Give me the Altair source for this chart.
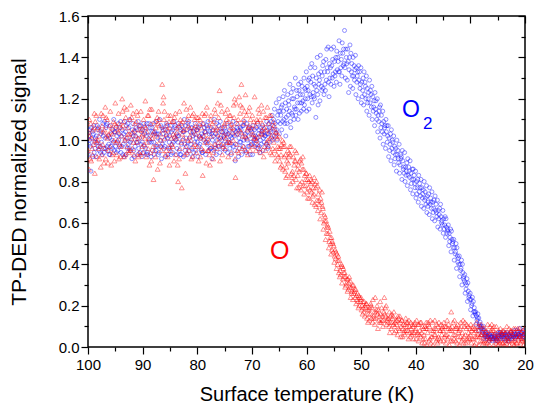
import altair as alt
import pandas as pd

# ---------------- data ----------------
T_START = 100.0   # K, first sample
T_STEP = 0.5      # K, spacing of samples along the temperature ramp

# O signal (red), six overlapping scans
RED_A = [
0.95, 1.08, 0.98, 1.12, 1.02, 0.93, 1.05, 1.10, 0.97, 1.03,
1.18, 1.04, 0.97, 1.09, 1.01, 0.94, 1.11, 1.05, 0.99, 1.07,
1.03, 1.19, 0.96, 1.08, 0.81, 1.02, 1.10, 0.97, 1.14, 1.05,
1.06, 0.97, 1.13, 0.80, 1.08, 1.01, 1.15, 0.95, 1.04, 1.10,
0.97, 1.10, 0.83, 1.04, 0.99, 1.12, 0.94, 1.06, 1.01, 1.14,
1.08, 1.15, 0.99, 1.06, 0.82, 1.10, 1.04, 0.97, 1.12, 1.07,
1.06, 1.21, 0.98, 1.10, 1.03, 0.95, 1.08, 1.12, 0.99, 1.04,
1.02, 0.88, 0.97, 0.83, 0.93, 0.80, 0.90, 0.88, 0.76, 0.86,
0.84, 0.72, 0.80, 0.69, 0.78, 0.62, 0.67, 0.52, 0.58, 0.45,
0.49, 0.38, 0.42, 0.31, 0.36, 0.27, 0.32, 0.23, 0.28, 0.19,
0.24, 0.17, 0.21, 0.13, 0.19, 0.11, 0.16, 0.22, 0.10, 0.15,
0.14, 0.09, 0.17, 0.11, 0.08, 0.13, 0.06, 0.12, 0.05, 0.10,
0.09, 0.03, 0.12, 0.06, 0.01, 0.10, 0.05, 0.13, 0.02, 0.08,
0.08, 0.02, 0.11, 0.17, 0.04, 0.09, 0.01, 0.07, 0.12, 0.03,
0.06, 0.10, 0.02, 0.08, 0.11, 0.03, 0.07, 0.01, 0.09, 0.05,
0.05, 0.09, 0.02, 0.07, 0.03, 0.08, 0.01, 0.06, 0.09, 0.03,
0.04]
RED_B = [
1.04, 0.90, 1.06, 0.99, 0.91, 1.07, 0.96, 1.01, 1.14, 0.94,
0.99, 1.13, 1.06, 0.92, 1.15, 1.03, 0.96, 1.08, 1.12, 0.93,
0.94, 1.06, 1.12, 0.90, 1.04, 0.98, 1.07, 1.27, 1.01, 0.92,
1.12, 1.03, 0.93, 1.07, 0.99, 1.18, 0.94, 1.06, 1.12, 0.98,
1.05, 0.92, 1.08, 1.13, 0.95, 1.02, 1.09, 0.96, 1.24, 0.93,
0.96, 1.03, 1.12, 1.00, 1.18, 0.94, 1.27, 1.08, 1.01, 1.16,
1.12, 1.01, 1.09, 0.94, 1.14, 1.05, 0.97, 1.02, 1.07, 0.93,
0.90, 1.00, 0.85, 0.95, 0.79, 0.92, 0.81, 0.77, 0.89, 0.74,
0.75, 0.83, 0.70, 0.79, 0.66, 0.72, 0.57, 0.61, 0.48, 0.53,
0.41, 0.45, 0.34, 0.39, 0.29, 0.33, 0.24, 0.30, 0.21, 0.25,
0.18, 0.22, 0.14, 0.19, 0.12, 0.24, 0.09, 0.16, 0.13, 0.20,
0.10, 0.16, 0.07, 0.13, 0.15, 0.05, 0.11, 0.08, 0.12, 0.04,
0.04, 0.11, 0.07, 0.02, 0.09, 0.04, 0.12, 0.06, 0.10, 0.03,
0.03, 0.10, 0.05, 0.08, 0.13, 0.02, 0.09, 0.04, 0.06, 0.10,
0.11, 0.04, 0.08, 0.01, 0.06, 0.09, 0.02, 0.10, 0.04, 0.07,
0.01, 0.06, 0.08, 0.02, 0.09, 0.04, 0.07, 0.02, 0.05, 0.08,
0.07]
RED_C = [
0.86, 1.01, 1.13, 0.92, 1.05, 0.98, 1.16, 0.89, 1.04, 1.09,
1.07, 0.91, 1.02, 1.16, 0.97, 1.10, 1.04, 0.90, 1.01, 1.14,
1.10, 0.92, 1.01, 1.15, 0.95, 1.11, 0.89, 1.05, 0.93, 1.12,
0.95, 1.09, 1.01, 0.91, 0.77, 1.05, 1.10, 1.02, 0.92, 1.07,
1.11, 1.01, 0.95, 0.89, 1.07, 0.97, 1.15, 1.03, 0.90, 1.04,
1.13, 0.92, 1.06, 1.17, 1.03, 1.21, 0.96, 1.14, 1.05, 0.95,
0.97, 1.07, 1.15, 1.03, 0.92, 1.11, 1.04, 0.93, 0.95, 1.01,
0.96, 0.86, 0.93, 0.89, 0.97, 0.83, 0.94, 0.85, 0.80, 0.83,
0.81, 0.76, 0.73, 0.77, 0.74, 0.65, 0.60, 0.55, 0.51, 0.47,
0.44, 0.40, 0.37, 0.33, 0.34, 0.28, 0.29, 0.26, 0.25, 0.20,
0.20, 0.15, 0.18, 0.16, 0.23, 0.14, 0.18, 0.12, 0.17, 0.11,
0.17, 0.12, 0.10, 0.06, 0.12, 0.09, 0.14, 0.04, 0.09, 0.07,
0.13, 0.06, 0.02, 0.10, 0.07, 0.13, 0.01, 0.09, 0.05, 0.11,
0.12, 0.06, 0.01, 0.10, 0.06, 0.11, 0.05, 0.13, 0.02, 0.07,
0.02, 0.07, 0.12, 0.05, 0.03, 0.06, 0.11, 0.04, 0.08, 0.02,
0.08, 0.03, 0.05, 0.10, 0.01, 0.06, 0.03, 0.09, 0.02, 0.06,
0.02]
RED_D = [
1.10, 0.96, 0.84, 1.06, 0.97, 1.12, 0.91, 1.03, 0.88, 1.00,
0.93, 1.08, 1.20, 1.00, 1.06, 0.95, 1.13, 1.02, 0.92, 1.05,
0.98, 1.04, 0.88, 1.01, 1.09, 0.86, 1.03, 1.18, 1.07, 0.97,
1.01, 0.90, 1.06, 1.14, 1.03, 0.93, 1.00, 1.16, 0.97, 1.03,
0.90, 1.06, 1.02, 1.16, 0.93, 1.08, 0.98, 1.18, 1.06, 0.97,
1.01, 1.09, 0.94, 1.11, 0.98, 1.05, 1.16, 1.02, 0.93, 1.10,
1.03, 0.95, 1.02, 1.17, 1.06, 0.99, 1.12, 1.06, 0.90, 0.97,
0.87, 0.97, 0.82, 0.92, 0.84, 0.88, 0.77, 0.90, 0.86, 0.78,
0.72, 0.79, 0.77, 0.68, 0.71, 0.70, 0.64, 0.58, 0.56, 0.51,
0.47, 0.42, 0.35, 0.38, 0.30, 0.31, 0.26, 0.27, 0.23, 0.24,
0.16, 0.20, 0.12, 0.21, 0.15, 0.17, 0.13, 0.19, 0.24, 0.13,
0.07, 0.14, 0.12, 0.15, 0.05, 0.11, 0.08, 0.13, 0.06, 0.11,
0.06, 0.08, 0.10, 0.04, 0.12, 0.02, 0.08, 0.03, 0.12, 0.06,
0.05, 0.13, 0.08, 0.03, 0.09, 0.05, 0.12, 0.02, 0.09, 0.05,
0.08, 0.01, 0.05, 0.10, 0.07, 0.02, 0.05, 0.08, 0.01, 0.10,
0.03, 0.07, 0.01, 0.04, 0.06, 0.02, 0.09, 0.04, 0.07, 0.01,
0.05]
RED_E = [
1.02, 0.93, 1.09, 1.00, 0.87, 1.04, 1.11, 0.95, 1.06, 0.90,
1.05, 0.98, 1.14, 0.93, 1.03, 1.17, 0.99, 1.09, 0.94, 1.02,
1.07, 0.99, 1.15, 1.03, 0.92, 1.08, 1.00, 1.21, 0.95, 1.09,
0.98, 1.11, 1.04, 0.96, 1.09, 0.84, 1.07, 1.00, 1.13, 0.94,
1.08, 0.96, 1.12, 1.01, 0.88, 1.05, 1.13, 0.99, 1.17, 1.02,
1.10, 0.99, 1.08, 1.20, 0.95, 1.13, 1.02, 1.22, 1.06, 0.98,
1.09, 1.00, 1.13, 1.05, 0.97, 1.16, 1.01, 0.96, 1.04, 0.92,
0.93, 0.99, 0.87, 0.94, 0.82, 0.90, 0.86, 0.79, 0.92, 0.81,
0.77, 0.81, 0.74, 0.80, 0.69, 0.75, 0.61, 0.59, 0.53, 0.50,
0.43, 0.44, 0.39, 0.36, 0.31, 0.34, 0.27, 0.28, 0.26, 0.22,
0.22, 0.19, 0.16, 0.20, 0.14, 0.18, 0.15, 0.13, 0.16, 0.14,
0.12, 0.15, 0.08, 0.14, 0.10, 0.07, 0.12, 0.10, 0.07, 0.12,
0.07, 0.12, 0.04, 0.09, 0.11, 0.05, 0.09, 0.11, 0.04, 0.09,
0.10, 0.04, 0.09, 0.12, 0.03, 0.07, 0.10, 0.05, 0.11, 0.04,
0.04, 0.09, 0.06, 0.03, 0.09, 0.05, 0.03, 0.07, 0.10, 0.04,
0.06, 0.02, 0.07, 0.05, 0.08, 0.03, 0.05, 0.08, 0.03, 0.06,
0.03]
RED_F = [
0.91, 1.05, 1.00, 0.96, 1.13, 0.89, 1.02, 1.07, 0.93, 1.08,
1.00, 0.92, 1.07, 1.11, 0.95, 1.01, 0.93, 1.14, 1.05, 0.97,
1.01, 1.12, 0.94, 0.97, 1.06, 1.14, 0.95, 1.10, 1.03, 0.88,
1.09, 1.02, 0.88, 1.10, 1.05, 0.97, 1.12, 0.91, 1.06, 1.11,
1.02, 1.13, 0.99, 0.95, 1.10, 0.91, 1.05, 1.11, 0.98, 1.07,
0.99, 1.12, 1.04, 0.91, 1.08, 1.17, 1.10, 0.95, 1.14, 1.03,
1.01, 1.10, 0.96, 1.08, 1.11, 1.00, 0.94, 1.09, 1.02, 0.96,
0.98, 0.92, 0.90, 0.97, 0.85, 0.95, 0.83, 0.91, 0.78, 0.84,
0.80, 0.75, 0.82, 0.71, 0.76, 0.68, 0.63, 0.55, 0.50, 0.46,
0.46, 0.36, 0.40, 0.34, 0.33, 0.29, 0.30, 0.24, 0.22, 0.23,
0.19, 0.21, 0.18, 0.14, 0.17, 0.20, 0.12, 0.15, 0.19, 0.12,
0.15, 0.11, 0.13, 0.09, 0.13, 0.08, 0.10, 0.07, 0.11, 0.08,
0.11, 0.05, 0.09, 0.12, 0.03, 0.08, 0.06, 0.04, 0.08, 0.10,
0.06, 0.09, 0.03, 0.06, 0.10, 0.08, 0.03, 0.10, 0.04, 0.09,
0.09, 0.05, 0.10, 0.06, 0.02, 0.08, 0.04, 0.11, 0.06, 0.03,
0.02, 0.08, 0.04, 0.03, 0.07, 0.09, 0.02, 0.05, 0.04, 0.09,
0.06]

# O2 signal (blue), six overlapping scans
BLUE_A = [
1.11, 0.97, 1.03, 0.92, 1.06, 0.99, 0.94, 1.08, 1.01, 0.96,
1.04, 0.95, 1.09, 0.98, 0.93, 1.06, 1.00, 0.92, 1.05, 1.01,
0.99, 1.06, 0.93, 1.02, 1.08, 0.95, 1.03, 0.91, 1.00, 1.07,
1.02, 0.94, 1.07, 0.99, 1.05, 0.92, 1.01, 1.09, 0.96, 1.03,
1.05, 0.98, 0.94, 1.04, 1.09, 0.96, 1.02, 0.93, 1.07, 1.00,
1.01, 1.08, 0.96, 1.03, 0.90, 1.05, 0.99, 1.07, 0.94, 1.02,
0.98, 1.05, 1.01, 0.94, 1.07, 1.02, 0.97, 1.04, 1.10, 1.18,
1.20, 1.05, 1.24, 1.08, 1.27, 1.12, 1.30, 1.10, 1.28, 1.15,
1.33, 1.15, 1.37, 1.20, 1.40, 1.19, 1.36, 1.24, 1.45, 1.27,
1.45, 1.28, 1.48, 1.31, 1.53, 1.29, 1.46, 1.25, 1.41, 1.20,
1.35, 1.17, 1.31, 1.12, 1.26, 1.07, 1.20, 1.01, 1.14, 0.96,
1.07, 0.90, 1.02, 0.85, 0.98, 0.81, 0.94, 0.78, 0.90, 0.74,
0.85, 0.70, 0.81, 0.67, 0.78, 0.64, 0.75, 0.61, 0.71, 0.57,
0.66, 0.53, 0.59, 0.46, 0.52, 0.38, 0.44, 0.30, 0.35, 0.22,
0.26, 0.15, 0.17, 0.08, 0.10, 0.04, 0.06, 0.03, 0.05, 0.06,
0.05, 0.07, 0.04, 0.06, 0.03, 0.07, 0.05, 0.08, 0.06, 0.07,
0.06]
BLUE_B = [
0.93, 0.85, 1.07, 1.02, 0.95, 1.04, 1.09, 0.97, 0.93, 1.05,
0.97, 1.08, 0.94, 1.03, 1.07, 0.96, 0.91, 1.04, 0.99, 0.94,
1.05, 0.96, 1.04, 0.92, 0.99, 1.09, 0.94, 1.06, 0.97, 1.01,
0.96, 1.05, 1.00, 1.08, 0.93, 1.04, 0.97, 0.95, 1.06, 0.99,
0.99, 1.07, 1.02, 0.93, 1.00, 1.06, 0.95, 1.08, 0.97, 1.04,
1.06, 0.94, 1.02, 1.09, 0.98, 0.92, 1.05, 1.00, 1.08, 0.97,
1.04, 0.97, 1.08, 1.00, 0.95, 1.06, 1.03, 1.09, 1.02, 1.05,
1.03, 1.17, 1.08, 1.22, 1.09, 1.25, 1.12, 1.27, 1.14, 1.30,
1.14, 1.30, 1.18, 1.35, 1.22, 1.41, 1.25, 1.39, 1.28, 1.44,
1.26, 1.43, 1.33, 1.47, 1.35, 1.44, 1.26, 1.40, 1.22, 1.36,
1.18, 1.33, 1.14, 1.29, 1.10, 1.23, 1.04, 1.17, 0.98, 1.10,
0.92, 1.05, 0.88, 1.00, 0.84, 0.95, 0.80, 0.91, 0.76, 0.86,
0.72, 0.83, 0.68, 0.80, 0.65, 0.77, 0.62, 0.73, 0.58, 0.69,
0.55, 0.62, 0.49, 0.56, 0.42, 0.48, 0.34, 0.40, 0.26, 0.31,
0.18, 0.22, 0.11, 0.14, 0.06, 0.08, 0.04, 0.06, 0.03, 0.05,
0.07, 0.04, 0.06, 0.03, 0.06, 0.05, 0.08, 0.05, 0.09, 0.05,
0.08]
BLUE_C = [
1.02, 1.06, 0.94, 0.99, 1.10, 0.93, 1.01, 0.95, 1.07, 0.99,
1.06, 1.00, 1.02, 0.92, 1.01, 1.10, 1.05, 0.97, 0.93, 1.07,
0.94, 1.02, 1.08, 0.99, 0.93, 1.03, 1.10, 0.98, 1.05, 0.93,
1.07, 0.99, 0.93, 1.02, 0.98, 1.10, 1.05, 1.01, 0.92, 1.08,
0.92, 1.01, 1.08, 0.99, 0.95, 1.03, 1.10, 1.00, 0.94, 1.06,
0.95, 1.03, 1.07, 0.97, 1.04, 1.01, 0.93, 1.09, 1.00, 1.06,
0.93, 1.02, 0.96, 1.06, 1.01, 0.98, 1.08, 1.01, 1.15, 1.00,
1.14, 1.09, 1.18, 1.12, 1.06, 1.20, 1.15, 1.24, 1.18, 1.17,
1.26, 1.22, 1.31, 1.26, 1.17, 1.33, 1.38, 1.29, 1.21, 1.36,
1.38, 1.34, 1.27, 1.42, 1.30, 1.38, 1.42, 1.31, 1.35, 1.29,
1.28, 1.22, 1.25, 1.18, 1.21, 1.15, 1.12, 1.06, 1.09, 1.04,
1.01, 0.96, 0.97, 0.93, 0.88, 0.90, 0.87, 0.83, 0.84, 0.81,
0.80, 0.75, 0.77, 0.71, 0.73, 0.69, 0.70, 0.66, 0.66, 0.63,
0.62, 0.58, 0.55, 0.52, 0.48, 0.44, 0.40, 0.36, 0.31, 0.27,
0.23, 0.17, 0.15, 0.11, 0.09, 0.06, 0.05, 0.04, 0.04, 0.03,
0.04, 0.06, 0.05, 0.07, 0.05, 0.04, 0.06, 0.07, 0.05, 0.08,
0.05]
BLUE_D = [
0.98, 1.01, 0.99, 1.07, 0.97, 1.08, 0.96, 1.02, 0.97, 1.10,
0.94, 1.03, 0.97, 1.09, 0.96, 0.99, 1.08, 1.02, 1.09, 0.98,
1.08, 0.93, 0.99, 1.06, 1.04, 0.97, 1.00, 1.03, 0.92, 1.04,
0.93, 1.09, 1.03, 0.95, 1.07, 0.98, 0.93, 1.04, 1.02, 0.95,
1.06, 0.95, 1.00, 1.07, 1.03, 0.91, 0.98, 1.05, 1.09, 0.96,
1.03, 0.99, 0.93, 1.05, 1.08, 0.96, 1.03, 0.95, 1.04, 0.93,
1.07, 1.00, 1.03, 0.98, 1.04, 1.09, 0.99, 1.12, 1.05, 1.12,
1.08, 1.21, 1.02, 1.19, 1.23, 1.10, 1.24, 1.13, 1.26, 1.25,
1.20, 1.35, 1.23, 1.11, 1.32, 1.26, 1.22, 1.44, 1.37, 1.30,
1.31, 1.40, 1.42, 1.36, 1.44, 1.23, 1.33, 1.36, 1.28, 1.33,
1.21, 1.28, 1.18, 1.24, 1.14, 1.19, 1.09, 1.12, 1.03, 1.07,
0.95, 1.00, 0.91, 0.95, 0.93, 0.86, 0.83, 0.87, 0.79, 0.83,
0.74, 0.79, 0.72, 0.75, 0.68, 0.72, 0.65, 0.69, 0.62, 0.60,
0.57, 0.55, 0.51, 0.50, 0.45, 0.41, 0.37, 0.33, 0.28, 0.24,
0.20, 0.19, 0.13, 0.10, 0.07, 0.05, 0.07, 0.05, 0.06, 0.04,
0.06, 0.05, 0.07, 0.05, 0.04, 0.06, 0.04, 0.06, 0.07, 0.06,
0.07]
BLUE_E = [
1.00, 1.04, 0.96, 1.05, 0.94, 1.02, 1.06, 0.98, 1.03, 0.95,
1.02, 0.97, 1.05, 1.00, 1.08, 0.95, 1.02, 1.06, 0.96, 1.04,
0.97, 1.08, 1.00, 0.95, 1.03, 1.01, 0.97, 1.05, 1.02, 0.96,
1.04, 1.01, 0.96, 1.06, 1.00, 0.95, 1.08, 0.98, 1.04, 1.01,
0.97, 1.03, 1.06, 0.98, 1.04, 1.00, 0.96, 1.02, 1.01, 0.98,
1.04, 1.00, 0.98, 1.02, 1.06, 0.99, 1.07, 1.03, 0.97, 1.05,
1.02, 0.98, 1.05, 1.03, 0.99, 1.03, 1.06, 1.00, 1.08, 1.09,
1.12, 1.14, 1.11, 1.17, 1.13, 1.16, 1.21, 1.18, 1.22, 1.20,
1.24, 1.28, 1.21, 1.30, 1.27, 1.24, 1.33, 1.35, 1.30, 1.39,
1.33, 1.38, 1.35, 1.44, 1.40, 1.34, 1.37, 1.29, 1.31, 1.25,
1.24, 1.26, 1.20, 1.22, 1.16, 1.13, 1.14, 1.08, 1.06, 0.99,
0.98, 0.99, 0.93, 0.91, 0.91, 0.87, 0.85, 0.85, 0.81, 0.79,
0.77, 0.77, 0.74, 0.72, 0.70, 0.70, 0.67, 0.65, 0.64, 0.61,
0.59, 0.57, 0.53, 0.51, 0.46, 0.43, 0.38, 0.34, 0.30, 0.25,
0.21, 0.17, 0.14, 0.12, 0.08, 0.07, 0.05, 0.05, 0.04, 0.04,
0.05, 0.06, 0.04, 0.06, 0.05, 0.06, 0.05, 0.06, 0.04, 0.05,
0.05]
BLUE_F = [
1.05, 0.92, 1.01, 0.97, 1.03, 0.96, 1.07, 0.93, 1.00, 1.04,
0.99, 1.06, 0.93, 1.04, 0.98, 1.03, 0.95, 0.99, 1.07, 0.92,
1.03, 0.94, 1.06, 1.04, 0.97, 0.93, 1.07, 0.96, 1.08, 0.99,
0.98, 1.06, 1.02, 0.93, 1.04, 1.07, 0.99, 1.06, 0.94, 1.05,
1.02, 0.94, 1.04, 1.06, 0.96, 1.05, 1.03, 0.97, 1.04, 1.02,
0.98, 1.05, 1.01, 0.95, 1.03, 1.06, 0.97, 1.01, 1.06, 0.99,
1.00, 1.06, 0.97, 1.04, 1.02, 0.96, 1.05, 1.07, 1.03, 1.14,
1.16, 1.10, 1.15, 1.14, 1.20, 1.15, 1.18, 1.22, 1.19, 1.24,
1.29, 1.21, 1.27, 1.24, 1.29, 1.31, 1.27, 1.33, 1.35, 1.32,
1.40, 1.33, 1.39, 1.37, 1.37, 1.40, 1.31, 1.34, 1.33, 1.27,
1.30, 1.20, 1.23, 1.16, 1.19, 1.10, 1.16, 1.04, 1.07, 1.02,
1.03, 0.94, 0.96, 0.89, 0.92, 0.84, 0.89, 0.82, 0.86, 0.77,
0.81, 0.73, 0.76, 0.69, 0.74, 0.67, 0.71, 0.63, 0.67, 0.59,
0.63, 0.56, 0.57, 0.48, 0.50, 0.40, 0.42, 0.32, 0.33, 0.23,
0.24, 0.16, 0.16, 0.09, 0.10, 0.05, 0.06, 0.04, 0.05, 0.03,
0.07, 0.05, 0.06, 0.04, 0.07, 0.05, 0.06, 0.05, 0.07, 0.06,
0.04]

# small temperature shifts between the interleaved scans (K)
RED_SHIFT = [0.0, -0.083, -0.167, -0.25, -0.333, -0.417]
BLUE_SHIFT = [0.04, -0.04, -0.125, -0.21, -0.29, -0.375]

X_MAJOR = [100, 90, 80, 70, 60, 50, 40, 30, 20]
X_MINOR = [95, 85, 75, 65, 55, 45, 35, 25]
Y_MAJOR = [0.0, 0.2, 0.4, 0.6, 0.8, 1.0, 1.2, 1.4, 1.6]
Y_MINOR = [0.1, 0.3, 0.5, 0.7, 0.9, 1.1, 1.3, 1.5]

LABEL_T = [64.9, 40.9, 37.8]
LABEL_S = [0.464, 1.145, 1.08]
LABEL_TXT = ["O", "O", "2"]
LABEL_CLR = ["#ff0000", "#0000ff", "#0000ff"]
LABEL_SIZE = [25, 23, 17]


def build(lists, shifts):
    rows = []
    for ys, sh in zip(lists, shifts):
        for i, y in enumerate(ys):
            t = T_START - T_STEP * i + sh
            if 20 <= t <= 100:
                rows.append({"T": t, "S": y})
    return pd.DataFrame(rows)


red_df = build([RED_A, RED_B, RED_C, RED_D, RED_E, RED_F], RED_SHIFT)
blue_df = build([BLUE_A, BLUE_B, BLUE_C, BLUE_D, BLUE_E, BLUE_F], BLUE_SHIFT)
lab_df = pd.DataFrame({"T": LABEL_T, "S": LABEL_S, "txt": LABEL_TXT,
                       "clr": LABEL_CLR, "size": LABEL_SIZE})
dummy = pd.DataFrame({"T": [60.0], "S": [0.8]})

FONT = "Liberation Sans"
xs = alt.Scale(domain=[20, 100], reverse=True, nice=False, zero=False)
ys = alt.Scale(domain=[0, 1.6], nice=False)

base_ax = dict(domain=False, grid=False, tickColor="black", tickWidth=1.2)

x_bottom = alt.Axis(orient="bottom", values=X_MAJOR, tickSize=7, format="d",
                    labelFont=FONT, labelFontSize=15, labelColor="black",
                    labelPadding=3, labelFlush=False, labelOverlap=False,
                    title="Surface temperature (K)",
                    titleFont=FONT, titleFontSize=20, titleFontWeight="normal",
                    titleColor="black", titlePadding=12, **base_ax)
y_left = alt.Axis(orient="left", values=Y_MAJOR, tickSize=7, format=".1f",
                  labelFont=FONT, labelFontSize=15, labelColor="black",
                  labelPadding=2, labelFlush=False, labelOverlap=False,
                  title="TP-DED normalized signal",
                  titleFont=FONT, titleFontSize=21, titleFontWeight="normal",
                  titleColor="black", titlePadding=29, **base_ax)
x_top = alt.Axis(orient="top", values=X_MAJOR, tickSize=7, offset=-7,
                 labels=False, title=None, **base_ax)
y_right = alt.Axis(orient="right", values=Y_MAJOR, tickSize=7, offset=-7,
                   labels=False, title=None, **base_ax)
x_bottom_m = alt.Axis(orient="bottom", values=X_MINOR, tickSize=4,
                      labels=False, title=None, **base_ax)
y_left_m = alt.Axis(orient="left", values=Y_MINOR, tickSize=4,
                    labels=False, title=None, **base_ax)
x_top_m = alt.Axis(orient="top", values=X_MINOR, tickSize=4, offset=-4,
                   labels=False, title=None, **base_ax)
y_right_m = alt.Axis(orient="right", values=Y_MINOR, tickSize=4, offset=-4,
                     labels=False, title=None, **base_ax)

blue = alt.Chart(blue_df).mark_point(
    shape="circle", filled=False, size=16, strokeWidth=0.8,
    color="#0000ff", opacity=0.55, clip=True
).encode(x=alt.X("T:Q", scale=xs, axis=x_bottom),
         y=alt.Y("S:Q", scale=ys, axis=y_left))

red = alt.Chart(red_df).mark_point(
    shape="triangle-up", filled=False, size=24, strokeWidth=0.8,
    color="#ff0000", opacity=0.55, clip=True
).encode(x=alt.X("T:Q", scale=xs, axis=x_top),
         y=alt.Y("S:Q", scale=ys, axis=y_right))

minor1 = alt.Chart(dummy).mark_point(opacity=0).encode(
    x=alt.X("T:Q", scale=xs, axis=x_bottom_m),
    y=alt.Y("S:Q", scale=ys, axis=y_left_m))
minor2 = alt.Chart(dummy).mark_point(opacity=0).encode(
    x=alt.X("T:Q", scale=xs, axis=x_top_m),
    y=alt.Y("S:Q", scale=ys, axis=y_right_m))

labels = alt.Chart(lab_df).mark_text(font=FONT, align="center",
                                     baseline="middle").encode(
    x=alt.X("T:Q", scale=xs, axis=None),
    y=alt.Y("S:Q", scale=ys, axis=None),
    text="txt:N",
    color=alt.Color("clr:N", scale=None),
    size=alt.Size("size:Q", scale=None))

chart = alt.layer(blue, red, minor1, minor2, labels).resolve_axis(
    x="independent", y="independent"
).properties(
    width=437, height=331,
    autosize=alt.AutoSizeParams(type="none"),
    padding={"left": 80, "top": 8, "right": 9, "bottom": 56},
    background="white"
).configure_view(stroke="black", strokeWidth=1.5)

chart.save("out.html", embed_options={"renderer": "svg", "actions": False})
